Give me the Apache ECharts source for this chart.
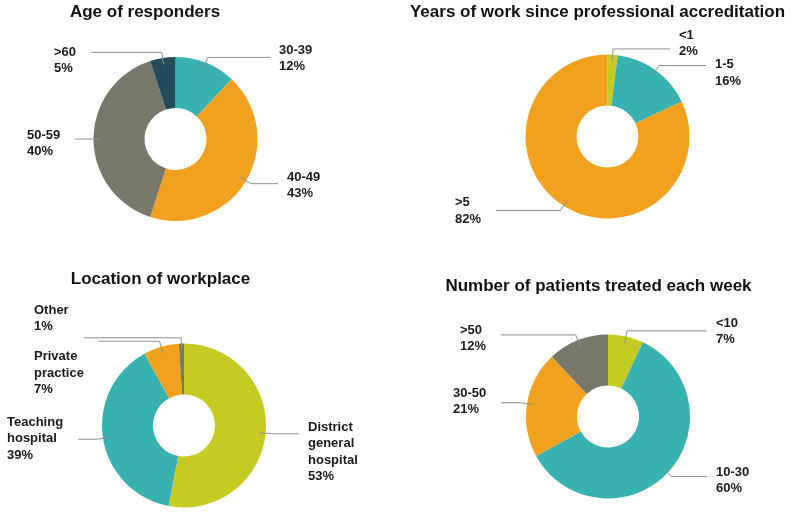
<!DOCTYPE html>
<html>
<head>
<meta charset="utf-8">
<script src="https://cdn.jsdelivr.net/npm/echarts@6/dist/echarts.min.js"></script>
<style>
html,body{margin:0;padding:0;background:#fff;}
#chart{width:794px;height:514px;}
</style>
</head>
<body>
<div id="chart"></div>
<script>
// ---------- DATA ----------
const ageTitle = 'Age of responders';
const ageCategories = ['30-39', '40-49', '50-59', '>60'];
const ageValues = [12, 43, 40, 5];

const yearsTitle = 'Years of work since professional accreditation';
const yearsCategories = ['<1', '1-5', '>5'];
const yearsValues = [2, 16, 82];

const locationTitle = 'Location of workplace';
const locationCategories = ['District\ngeneral\nhospital', 'Teaching\nhospital', 'Private\npractice', 'Other'];
const locationValues = [53, 39, 7, 1];

const patientsTitle = 'Number of patients treated each week';
const patientsCategories = ['<10', '10-30', '30-50', '>50'];
const patientsValues = [7, 60, 21, 12];

// ---------- STYLE / LAYOUT ----------
const C = {
  teal: '#38b2b0', orange: '#f1a11d', grey: '#77786a', dark: '#234b5b', lime: '#c5cb23'
};
const panels = [
  { title: ageTitle, cats: ageCategories, vals: ageValues,
    colors: [C.teal, C.orange, C.grey, C.dark],
    center: [175.5, 139], titleX: 145, titleTop: 4,
    // label anchor (left x, middle y) relative to pie centre
    labelPos: [[103.5, -80.5], [111.5, 46.5], [-148.5, 4.5], [-121.5, -78.5]] },
  { title: yearsTitle, cats: yearsCategories, vals: yearsValues,
    colors: [C.lime, C.teal, C.orange],
    center: [607.5, 136.5], titleX: 597.5, titleTop: 4,
    labelPos: [[71.5, -93], [107.5, -63.5], [-152.5, 74.5]] },
  { title: locationTitle, cats: locationCategories, vals: locationValues,
    colors: [C.lime, C.teal, C.orange, C.grey],
    center: [184, 425.5], titleX: 160.5, titleTop: 270.5,
    labelPos: [[124, 26.5], [-177, 13], [-150, -52.5], [-150, -107]] },
  { title: patientsTitle, cats: patientsCategories, vals: patientsValues,
    colors: [C.lime, C.teal, C.orange, C.grey],
    center: [608, 416.5], titleX: 598.5, titleTop: 278,
    labelPos: [[108, -85], [108, 64], [-155, -15], [-148, -78]] }
];
const R_OUT = 82, R_IN = 31;

const chart = echarts.init(document.getElementById('chart'), null, {renderer: 'canvas'});

const titles = panels.map(p => ({
  text: p.title, left: p.titleX, top: p.titleTop, textAlign: 'center', padding: 0,
  textStyle: { fontFamily: 'Liberation Sans', fontWeight: 'bold', fontSize: 17, color: '#111' }
}));

function makeLayout(p) {
  const total = p.vals.reduce((a, b) => a + b, 0);
  const mids = [];
  let acc = 0;
  p.vals.forEach(v => { mids.push((acc + v / 2) / total); acc += v; });
  return function (params) {
    const i = params.dataIndex;
    const cx = p.center[0], cy = p.center[1];
    const a = (90 - mids[i] * 360) * Math.PI / 180;
    const p0 = [cx + 0.92 * R_OUT * Math.cos(a), cy - 0.92 * R_OUT * Math.sin(a)];
    const p1 = [cx + 1.07 * R_OUT * Math.cos(a), cy - 1.07 * R_OUT * Math.sin(a)];
    const lp = p.labelPos[i];
    const lx = cx + lp[0], ly = cy + lp[1];
    const w = params.labelRect.width;
    const endX = lp[0] > 0 ? lx - 9 : lx + w + 15;
    return {
      x: lx, y: ly, align: 'left', verticalAlign: 'middle',
      labelLinePoints: [p0, p1, [endX, p1[1]]]
    };
  };
}

const series = [];
// coloured rings (no labels)
panels.forEach(p => {
  series.push({
    type: 'pie', z: 2,
    center: p.center, radius: [R_IN, R_OUT],
    startAngle: 90, clockwise: true,
    avoidLabelOverlap: false, silent: true, animation: false,
    data: p.cats.map((c, i) => ({ name: c, value: p.vals[i], itemStyle: { color: p.colors[i] } })),
    label: { show: false }, labelLine: { show: false },
    itemStyle: { borderWidth: 0 }
  });
});
// transparent overlay carrying labels and leader lines drawn above the rings
panels.forEach(p => {
  series.push({
    type: 'pie', z: 5,
    center: p.center, radius: [R_IN, R_OUT],
    startAngle: 90, clockwise: true,
    avoidLabelOverlap: false, silent: true, animation: false,
    data: p.cats.map((c, i) => ({ name: c, value: p.vals[i], itemStyle: { color: 'rgba(0,0,0,0)' } })),
    label: {
      show: true, position: 'outside', formatter: '{b}\n{c}%',
      fontFamily: 'Liberation Sans', fontWeight: 'bold', fontSize: 13, lineHeight: 16.5,
      color: '#1a1a1a', align: 'left'
    },
    labelLine: { show: true, length: 6, length2: 6, smooth: false,
      lineStyle: { color: '#8f8f8f', width: 1 } },
    labelLayout: makeLayout(p),
    itemStyle: { borderWidth: 0 }
  });
});

chart.setOption({
  animation: false,
  backgroundColor: '#ffffff',
  title: titles,
  series: series
});
</script>
</body>
</html>
